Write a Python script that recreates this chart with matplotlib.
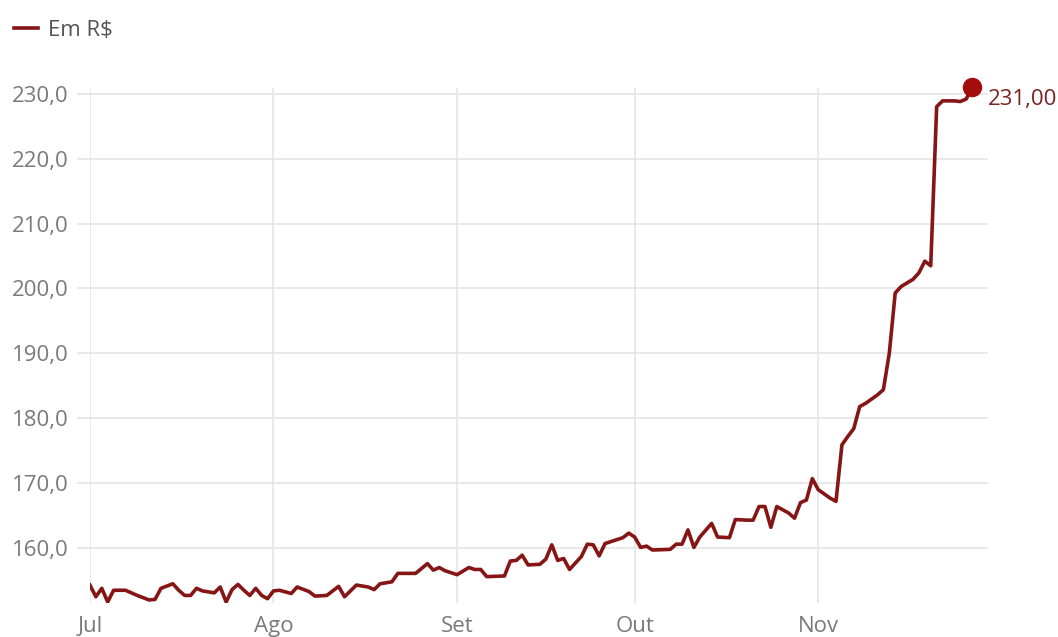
import pandas as pd
import matplotlib
matplotlib.use("Agg")
import matplotlib.pyplot as plt

plt.rcParams["font.family"] = ["Open Sans", "DejaVu Sans"]

# dias contados a partir de 1 de julho
start = pd.Timestamp("2021-07-01")
day_offsets = [0, 1, 2, 3, 4, 6, 8, 10, 11, 12, 14, 15, 16, 17, 18, 19, 21, 22, 23, 24,
               25, 26, 27, 28, 29, 30, 31, 32, 34, 35, 37, 38, 40, 41, 42, 43, 45, 47, 48, 49,
               51, 52, 55, 57, 58, 59, 60, 62, 64, 65, 66, 67, 70, 71, 72, 73, 74, 76, 77, 78,
               79, 80, 81, 83, 84, 85, 86, 87, 88, 90, 91, 92, 93, 94, 95, 98, 99, 100, 101, 102,
               103, 105, 106, 108, 109, 111, 112, 113, 114, 115, 116, 118, 119, 120, 121, 122, 123, 125, 126, 127,
               128, 129, 130, 131, 133, 134, 135, 136, 137, 139, 140, 141, 142, 143, 144, 146, 147, 148, 149]
prices = [154.3, 152.5, 153.8, 151.7, 153.5, 153.5, 152.7, 152.0, 152.1, 153.8, 154.5, 153.5, 152.7, 152.7, 153.8, 153.4, 153.1, 154.0, 151.7, 153.6,
          154.4, 153.5, 152.7, 153.8, 152.7, 152.2, 153.4, 153.5, 153.0, 154.0, 153.3, 152.6, 152.7, 153.4, 154.1, 152.5, 154.3, 154.0, 153.6, 154.5,
          154.8, 156.1, 156.1, 157.6, 156.6, 157.0, 156.5, 155.9, 157.0, 156.7, 156.7, 155.6, 155.7, 158.0, 158.1, 158.9, 157.4, 157.5, 158.3, 160.5,
          158.1, 158.4, 156.7, 158.7, 160.6, 160.5, 158.8, 160.7, 161.0, 161.6, 162.3, 161.7, 160.1, 160.3, 159.7, 159.8, 160.6, 160.6, 162.8, 160.1,
          161.7, 163.8, 161.7, 161.6, 164.4, 164.3, 164.3, 166.4, 166.4, 163.2, 166.4, 165.4, 164.6, 167.0, 167.4, 170.7, 169.0, 167.7, 167.2, 175.9,
          177.2, 178.4, 181.8, 182.3, 183.6, 184.4, 190.0, 199.3, 200.3, 201.4, 202.4, 204.2, 203.5, 228.0, 228.9, 228.9, 228.8, 229.2, 231.0]

month_starts = ["2021-07-01", "2021-08-01", "2021-09-01", "2021-10-01", "2021-11-01"]
month_labels = ["Jul", "Ago", "Set", "Out", "Nov"]
y_ticks = [160, 170, 180, 190, 200, 210, 220, 230]

dates = start + pd.to_timedelta(day_offsets, unit="D")
line_color = "#861515"
fs = 16

fig = plt.figure(figsize=(10.58, 6.37), dpi=100)
ax = fig.add_axes([0.085, 0.053, 0.849, 0.809])

ax.plot(dates, prices, color=line_color, lw=2.6, label="Em R$", zorder=3,
        solid_joinstyle="round")
ax.plot(dates[-1], prices[-1], "o", color="#a50d0d", ms=13, clip_on=False, zorder=4)
ax.annotate(f"{prices[-1]:.2f}".replace(".", ","), (dates[-1], prices[-1]),
            xytext=(11, -9), textcoords="offset points", ha="left", va="center",
            color="#7a2424", fontsize=fs, annotation_clip=False)

ax.set_xlim(start, start + pd.Timedelta(days=151.7))
ax.set_ylim(151.5, 230.9)
ax.set_xticks(pd.to_datetime(month_starts))
ax.set_xticklabels(month_labels)
ax.set_yticks(y_ticks)
ax.set_yticklabels([f"{v:.1f}".replace(".", ",") for v in y_ticks])

ax.grid(True, color="#e3e3e3", lw=1.1)
ax.set_axisbelow(True)
for s in ax.spines.values():
    s.set_visible(False)
ax.tick_params(axis="y", length=9.5, width=1.1, color="#e3e3e3", pad=6,
               labelsize=fs, labelcolor="#7a7a7a")
ax.tick_params(axis="x", length=0, pad=9, labelsize=fs, labelcolor="#7a7a7a")

fig.legend(loc="upper left", bbox_to_anchor=(0.001, 0.99), frameon=False,
           fontsize=fs, handlelength=1.05, handletextpad=0.45, labelcolor="#555555",
           borderaxespad=0.2)

fig.savefig("out.png", dpi=100)
